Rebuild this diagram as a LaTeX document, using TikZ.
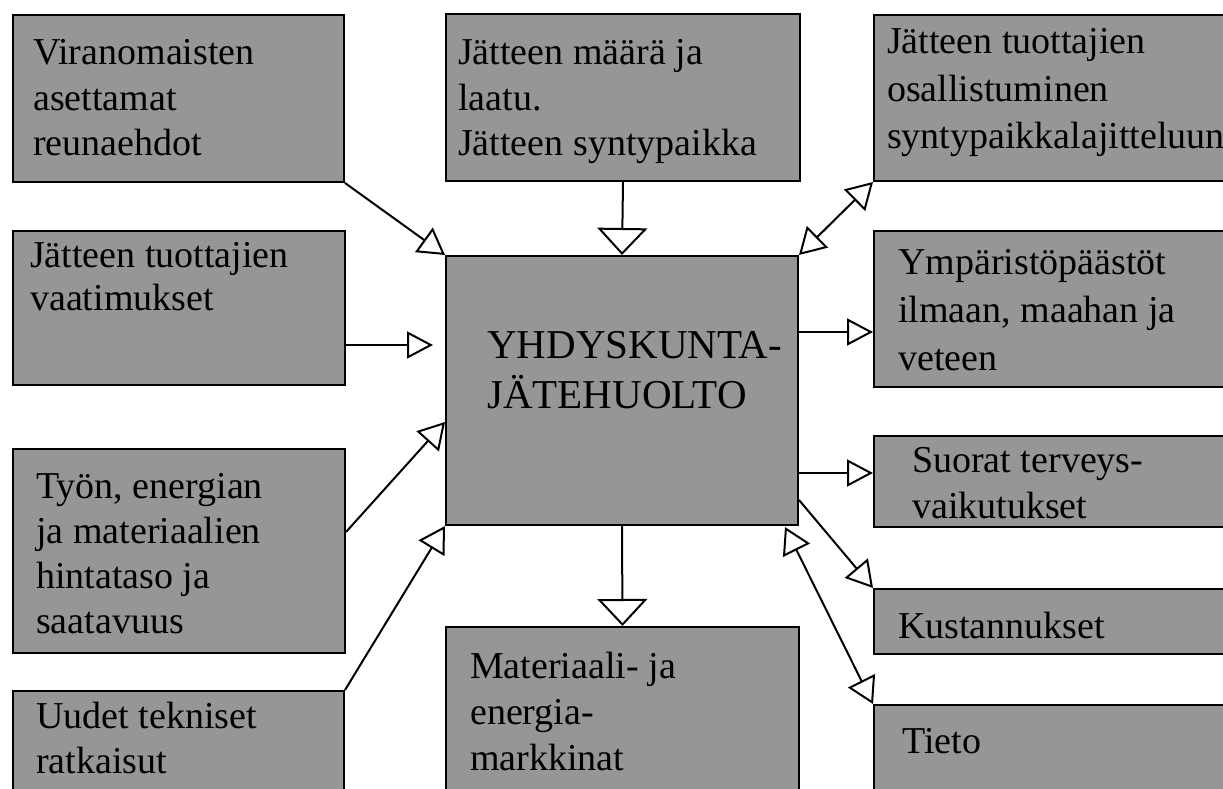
\documentclass[tikz,border=0pt]{standalone}
\usepackage{fontspec}
\setmainfont{Liberation Serif}
\newfontfamily\tnr{Liberation Serif}
\usetikzlibrary{arrows.meta,calc}
\definecolor{boxgray}{RGB}{150,150,150}
\begin{document}
\begin{tikzpicture}[x=1pt,y=-1pt,
  box/.style={draw=black,line width=2pt,fill=boxgray,inner sep=0pt,anchor=north west},
  txt/.style={anchor=base west,align=left,inner sep=0pt,font=\tnr\fontsize{38}{45}\selectfont},
  bigtxt/.style={anchor=base west,align=left,inner sep=0pt,font=\tnr\fontsize{41}{50}\selectfont},
  conn/.style={line width=2pt},
  harr/.style={-{Triangle[open,length=26pt,width=27pt]}},
  varr/.style={-{Triangle[open,length=27pt,width=50pt]}},
  darr/.style={-{Triangle[open,length=26pt,width=30pt]}},
  dboth/.style={{Triangle[open,length=26pt,width=30pt]}-{Triangle[open,length=26pt,width=30pt]}}
]
\useasboundingbox (0,0) rectangle (1223,789);
\clip (0,0) rectangle (1223,789);

% boxes
\node[box,minimum width=331pt,minimum height=167pt] (vir) at (12,14) {};
\node[box,minimum width=354pt,minimum height=167pt] (maara) at (445,13) {};
\node[box,minimum width=380pt,minimum height=166pt] (osal) at (873,14) {};
\node[box,minimum width=332pt,minimum height=154pt] (vaat) at (12,230) {};
\node[box,minimum width=352pt,minimum height=269pt] (center) at (445,255) {};
\node[box,minimum width=332pt,minimum height=204pt] (tyon) at (12,448) {};
\node[box,minimum width=331pt,minimum height=130pt] (uudet) at (12,690) {};
\node[box,minimum width=353pt,minimum height=190pt] (mat) at (445,626) {};
\node[box,minimum width=380pt,minimum height=156pt] (ymp) at (873,230) {};
\node[box,minimum width=380pt,minimum height=91pt] (suorat) at (873,435) {};
\node[box,minimum width=380pt,minimum height=65pt] (kust) at (873,588) {};
\node[box,minimum width=380pt,minimum height=130pt] (tieto) at (873,704) {};

% texts (anchored at the baseline of their last line)
\node[txt] (virt) at (33,155) {Viranomaisten\\asettamat\\reunaehdot};
\node[txt] (maarat) at (458,155) {Jätteen määrä ja\\laatu.\\Jätteen syntypaikka};
\node[txt,font=\tnr\fontsize{38}{47}\selectfont] (osalt) at (887,148) {Jätteen tuottajien\\osallistuminen\\syntypaikkalajitteluun};
\node[txt,font=\tnr\fontsize{38}{43}\selectfont] (vaatt) at (30,310) {Jätteen tuottajien\\vaatimukset};
\node[bigtxt] (centert) at (487,408) {YHDYSKUNTA-\\JÄTEHUOLTO};
\node[txt] (tyont) at (36,633) {Työn, energian\\ja materiaalien\\hintataso ja\\saatavuus};
\node[txt] (uudett) at (36,773) {Uudet tekniset\\ratkaisut};
\node[txt,font=\tnr\fontsize{38}{46}\selectfont] (matt) at (470,770) {Materiaali- ja\\energia-\\markkinat};
\node[txt,font=\tnr\fontsize{38}{48}\selectfont] (ympt) at (898,370) {Ympäristöpäästöt\\ilmaan, maahan ja\\veteen};
\node[txt,font=\tnr\fontsize{38}{46}\selectfont] (suoratt) at (912,518) {Suorat terveys-\\vaikutukset};
\node[txt] (kustt) at (898,638) {Kustannukset};
\node[txt] (tietot) at (902,753) {Tieto};

% helper coordinates
\coordinate (vaatend) at (433,345);
\coordinate (tyonout) at (0,532);
\coordinate (tyonin) at (0,422);
\coordinate (ympy) at (0,332);
\coordinate (suoy) at (0,473);
\coordinate (kusty) at (0,500);
\coordinate (tietostart) at (785,527);

% connectors
\draw[conn,darr] (vir.south east) -- (center.north west);
\draw[conn,varr] (maara.south) -- (center.north);
\draw[conn,dboth] (center.north east) -- (osal.south west);
\draw[conn,harr] (vaat.east |- vaatend) -- (vaatend);
\draw[conn,darr] (tyon.east |- tyonout) -- (center.west |- tyonin);
\draw[conn,darr] (uudet.north east) -- (center.south west);
\draw[conn,harr] (center.east |- ympy) -- (ymp.west |- ympy);
\draw[conn,harr] (center.east |- suoy) -- (suorat.west |- suoy);
\draw[conn,darr] (center.east |- kusty) -- (kust.north west);
\draw[conn,dboth] (tietostart) -- (tieto.north west);
\draw[conn,varr] (center.south) -- (mat.north);
\end{tikzpicture}
\end{document}
